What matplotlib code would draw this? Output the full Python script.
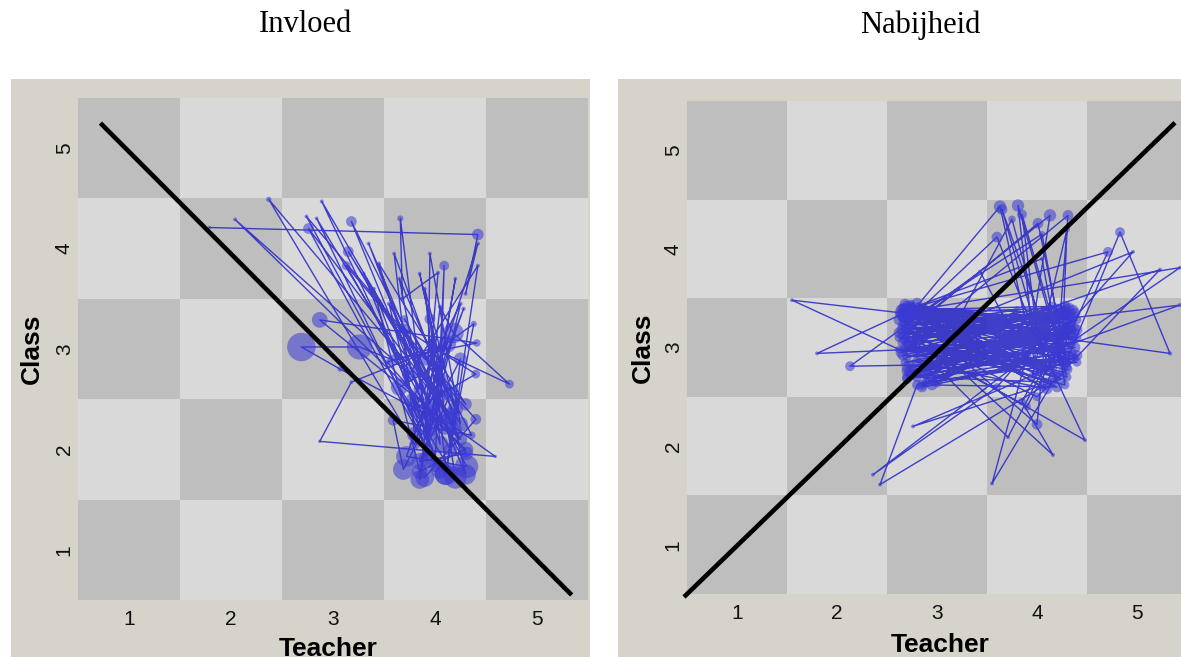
import matplotlib
matplotlib.use('Agg')
import matplotlib.pyplot as plt
import numpy as np
from matplotlib.patches import Rectangle
from matplotlib.colors import ListedColormap

# ---------------- data ----------------
titles = ["Invloed", "Nabijheid"]
tick_values = [1, 2, 3, 4, 5]
tick_labels = ["1", "2", "3", "4", "5"]
x_label = "Teacher"
y_label = "Class"

# Invloed trajectory (Teacher, Class, marker size)
left_x = [1.79, 4.42, 4.30, 4.42, 3.80, 2.37, 4.15, 2.76, 3.95, 3.66,
          3.68, 4.03, 3.90, 2.89, 4.20, 3.18, 3.85, 2.84, 4.00, 4.09,
          4.05, 3.15, 4.25, 2.04, 3.75, 4.42, 4.15, 3.13, 3.90, 4.38,
          4.10, 2.74, 4.30, 3.45, 3.95, 4.20, 3.85, 4.05, 4.18, 4.73,
          4.00, 3.18, 2.87, 4.59, 4.00, 2.87, 4.41, 3.59, 3.26, 2.69,
          3.07, 4.10, 4.31, 3.72, 4.05, 3.65, 4.20, 3.95, 4.11, 4.25,
          3.69, 3.59, 4.36, 4.15, 3.85, 4.31, 3.53, 4.12, 3.80, 4.40,
          3.70, 4.05, 3.90, 4.20, 3.65, 3.95, 4.25, 3.78, 4.30, 3.85,
          3.40, 4.05, 3.30, 4.15, 3.55, 3.92, 3.95, 4.25, 3.70, 4.10,
          3.85, 4.30, 3.35, 3.95, 4.28, 3.80, 3.60, 4.05, 4.40, 3.90]
left_y = [4.21, 4.14, 3.55, 4.05, 2.05, 4.49, 2.35, 4.20, 1.95, 4.30,
          3.50, 3.76, 2.30, 4.47, 2.20, 4.27, 2.60, 4.30, 1.85, 3.83,
          2.50, 3.97, 2.10, 4.29, 2.75, 3.83, 2.00, 3.83, 2.90, 3.25,
          1.75, 4.32, 2.45, 3.85, 2.20, 3.70, 1.70, 3.42, 3.16, 2.65,
          3.00, 2.67, 2.08, 1.93, 2.36, 3.29, 3.06, 2.89, 3.02, 3.02,
          2.80, 2.25, 1.83, 1.93, 2.85, 2.62, 1.72, 3.30, 1.76, 2.90,
          1.80, 2.29, 2.14, 2.55, 1.88, 1.96, 2.87, 3.05, 2.40, 2.75,
          3.20, 2.05, 3.60, 2.40, 3.70, 2.15, 3.45, 2.50, 2.00, 1.78,
          3.60, 1.80, 3.75, 2.30, 3.45, 1.90, 3.95, 2.25, 3.30, 2.60,
          3.75, 1.75, 4.05, 2.45, 3.40, 2.15, 3.95, 2.70, 2.30, 1.72]
left_s = [6, 70, 8, 10, 60, 15, 90, 60, 80, 20,
          10, 8, 60, 8, 90, 60, 80, 8, 120, 50,
          60, 60, 90, 8, 120, 8, 90, 40, 90, 20,
          220, 8, 80, 10, 120, 8, 180, 10, 220, 40,
          60, 8, 6, 6, 180, 130, 30, 60, 330, 420,
          15, 220, 280, 220, 90, 150, 260, 60, 280, 90,
          220, 60, 30, 120, 150, 90, 15, 160, 120, 40,
          60, 150, 8, 120, 8, 120, 10, 90, 120, 120,
          8, 180, 8, 150, 10, 150, 8, 120, 30, 120,
          8, 220, 8, 150, 10, 120, 8, 90, 60, 180]

# Nabijheid trajectory (Teacher, Class, marker size)
right_x = [2.65, 4.30, 2.70, 4.25, 2.68, 4.35, 2.75, 4.10, 2.70, 4.30,
           2.80, 4.20, 2.65, 4.35, 1.55, 2.62, 4.40, 2.90, 4.25, 2.66,
           3.63, 4.00, 3.81, 4.30, 2.70, 4.20, 2.75, 4.38, 2.62, 4.15,
           2.85, 4.13, 3.90, 2.95, 4.35, 1.80, 2.63, 4.30, 2.72, 4.05,
           2.43, 2.80, 4.28, 2.68, 4.31, 4.20, 2.85, 4.40, 2.64, 5.33,
           4.83, 4.25, 2.75, 4.01, 4.30, 2.13, 3.43, 3.70, 2.70, 4.35,
           2.66, 4.00, 4.10, 2.78, 4.30, 2.36, 3.60, 4.28, 2.70, 4.96,
           4.20, 2.74, 4.38, 2.76, 4.25, 2.72, 3.60, 4.05, 2.68, 4.33,
           2.86, 4.15, 2.65, 4.48, 3.95, 2.70, 4.30, 5.43, 4.35, 2.72,
           4.20, 3.55, 3.90, 2.68, 4.40, 2.75, 4.71, 4.10, 2.80, 4.32,
           2.66, 4.16, 3.85, 4.25, 2.70, 5.23, 4.30, 2.65, 3.80, 2.90,
           4.35, 2.70, 3.71, 4.20, 2.78, 5.43, 4.15, 2.72, 4.38, 2.62,
           4.05, 4.28, 2.75, 4.30, 3.00, 4.20, 2.68, 4.35, 2.74, 4.10,
           3.65, 4.00, 3.85, 4.25, 4.30, 3.95, 2.70, 2.72, 4.36, 2.66,
           4.25, 2.80, 4.05, 2.70, 4.38, 2.62, 4.20, 2.95, 4.32, 2.68,
           3.90, 4.30, 2.74, 4.28, 2.64, 4.40, 2.85, 3.75, 4.15, 2.70,
           4.35, 2.78, 4.22, 2.65, 4.00, 4.30, 2.72, 4.38, 2.90, 4.25,
           2.66, 4.10, 2.80, 4.33, 2.62, 4.20, 2.75, 4.05, 4.28, 2.70,
           4.40, 2.68, 4.18, 2.82, 4.32, 2.64, 4.25]
right_y = [3.40, 3.35, 3.30, 3.10, 3.20, 3.25, 3.42, 2.80, 2.70, 2.95,
           3.35, 3.40, 3.05, 3.15, 3.48, 2.98, 2.85, 2.65, 3.30, 3.25,
           4.43, 2.75, 4.44, 2.70, 3.38, 3.00, 2.80, 3.20, 3.10, 2.65,
           3.30, 4.34, 2.85, 2.70, 3.05, 2.94, 3.33, 3.32, 3.36, 2.60,
           1.61, 2.62, 3.12, 2.98, 4.34, 2.90, 2.62, 3.28, 3.32, 2.94,
           4.17, 2.75, 3.20, 4.26, 2.85, 2.81, 3.77, 3.25, 3.15, 2.95,
           3.40, 2.22, 3.30, 2.75, 3.22, 1.71, 2.60, 3.38, 3.05, 3.97,
           3.10, 3.44, 2.90, 2.20, 2.68, 3.28, 4.12, 2.95, 2.85, 3.18,
           2.92, 3.42, 3.12, 2.06, 3.20, 2.68, 3.02, 3.43, 3.30, 3.35,
           2.72, 1.62, 2.92, 3.00, 3.10, 3.40, 3.97, 2.65, 2.70, 3.25,
           3.30, 1.91, 2.45, 3.20, 2.90, 3.79, 2.80, 3.22, 3.38, 2.78,
           3.35, 3.10, 2.09, 3.05, 3.38, 3.81, 2.92, 2.75, 3.15, 3.35,
           3.90, 2.62, 3.02, 3.40, 2.65, 3.25, 3.18, 2.88, 3.42, 3.10,
           4.40, 3.15, 4.35, 2.95, 4.20, 2.70, 3.30, 3.22, 3.38, 2.92,
           2.85, 3.45, 3.05, 2.80, 3.00, 3.28, 2.60, 2.62, 3.30, 3.08,
           2.40, 3.15, 2.72, 3.42, 3.38, 2.92, 2.60, 4.30, 2.80, 3.42,
           3.10, 2.95, 3.35, 3.18, 2.50, 2.78, 3.02, 3.35, 2.72, 3.05,
           3.35, 2.58, 2.85, 3.22, 3.15, 2.95, 3.30, 4.15, 2.88, 2.76,
           3.18, 3.44, 2.70, 3.08, 3.40, 2.95, 3.12]
right_s = [40, 40, 40, 40, 40, 40, 40, 40, 50, 40,
           40, 40, 40, 40, 8, 30, 40, 60, 40, 40,
           80, 40, 80, 40, 40, 40, 50, 40, 40, 40,
           40, 80, 40, 60, 40, 8, 40, 40, 40, 40,
           8, 50, 40, 40, 60, 40, 50, 40, 40, 10,
           50, 40, 40, 60, 40, 50, 8, 30, 40, 40,
           40, 60, 40, 50, 40, 8, 30, 40, 40, 8,
           40, 40, 40, 8, 40, 40, 60, 40, 40, 40,
           120, 40, 40, 8, 40, 50, 40, 10, 40, 40,
           40, 8, 40, 40, 40, 40, 50, 40, 50, 40,
           40, 8, 30, 40, 40, 8, 40, 40, 30, 60,
           40, 40, 8, 40, 40, 8, 40, 50, 40, 40,
           8, 40, 40, 40, 60, 40, 40, 40, 40, 40,
           60, 40, 50, 40, 20, 40, 40, 60, 60, 60,
           60, 60, 50, 60, 60, 60, 60, 60, 60, 60,
           30, 60, 60, 60, 60, 60, 60, 30, 60, 60,
           60, 60, 60, 60, 40, 60, 60, 60, 60, 60,
           60, 60, 60, 60, 60, 60, 60, 20, 60, 60,
           60, 60, 60, 60, 60, 60, 60]

# reference diagonals
left_diag_x = [0.72, 5.34]
left_diag_y = [5.25, 0.55]
right_diag_x = [0.47, 5.38]
right_diag_y = [0.47, 5.28]

# ---------------- style ----------------
W, H = 1181, 657
PANEL_BG = '#d6d3ca'
DARK = '#bebebe'
LIGHT = '#d9d9d9'
LINE_C = '#2424c8'
MARK_C = '#3a3ad4'
SANS = ['Liberation Sans', 'DejaVu Sans']
SERIF = ['Liberation Serif', 'DejaVu Serif']

fig = plt.figure(figsize=(W / 100, H / 100), dpi=100)
fig.patch.set_facecolor('white')


def px_rect(x0, y0, x1, y1):
    return Rectangle((x0 / W, 1 - y1 / H), (x1 - x0) / W, (y1 - y0) / H,
                     transform=fig.transFigure, facecolor=PANEL_BG,
                     edgecolor='none', zorder=-10)


fig.patches.append(px_rect(11, 79, 590, 657))
fig.patches.append(px_rect(618, 79, 1181, 657))

ax_l = fig.add_axes([78 / W, 1 - 600 / H, 510 / W, 502 / H])
ax_r = fig.add_axes([687 / W, 1 - 594 / H, 500 / W, 493 / H])

edges = np.arange(0.5, 6.0, 1.0)
board = np.array([[(i + j) % 2 == 0 for i in tick_values] for j in tick_values], dtype=float)
cmap = ListedColormap([LIGHT, DARK])

panels = [
    (ax_l, left_x, left_y, left_s, left_diag_x, left_diag_y, titles[0], 305),
    (ax_r, right_x, right_y, right_s, right_diag_x, right_diag_y, titles[1], 920),
]

for ax, xs, ys, ss, dx, dy, title, tx in panels:
    ax.set_zorder(1)
    ax.patch.set_visible(False)
    ax.pcolormesh(edges, edges, board, cmap=cmap, vmin=0, vmax=1, zorder=0)
    ax.set_xlim(0.5, 5.5)
    ax.set_ylim(0.5, 5.5)
    for sp in ax.spines.values():
        sp.set_visible(False)
    ax.plot(xs, ys, color=LINE_C, lw=1.0, alpha=0.85, zorder=3)
    ax.scatter(xs, ys, s=ss, color=MARK_C, alpha=0.55, edgecolors='none', zorder=4)
    ax.plot(dx, dy, color='black', lw=3.3, solid_capstyle='butt', zorder=5, clip_on=False)
    ax.set_xticks(tick_values)
    ax.set_xticklabels(tick_labels, family=SANS, fontsize=15, color='#111111')
    ax.set_yticks(tick_values)
    ax.set_yticklabels(tick_labels, family=SANS, fontsize=15, rotation=90, va='center',
                       color='#111111')
    ax.tick_params(axis='x', length=0, pad=7)
    ax.tick_params(axis='y', length=0, pad=3)
    ax.set_xlabel(x_label, family=SANS, fontsize=19, fontweight='bold', va='center')
    ax.set_ylabel(y_label, family=SANS, fontsize=19, fontweight='bold', va='center')
    fig.text(tx / W, 1 - 25 / H, title, ha='center', va='center', family=SERIF, fontsize=22)

ax_l.xaxis.set_label_coords(0.49, -0.097)
ax_l.yaxis.set_label_coords(-0.09, 0.5)
ax_r.xaxis.set_label_coords(0.506, -0.103)
ax_r.yaxis.set_label_coords(-0.088, 0.5)

fig.savefig('out.png', dpi=100)
